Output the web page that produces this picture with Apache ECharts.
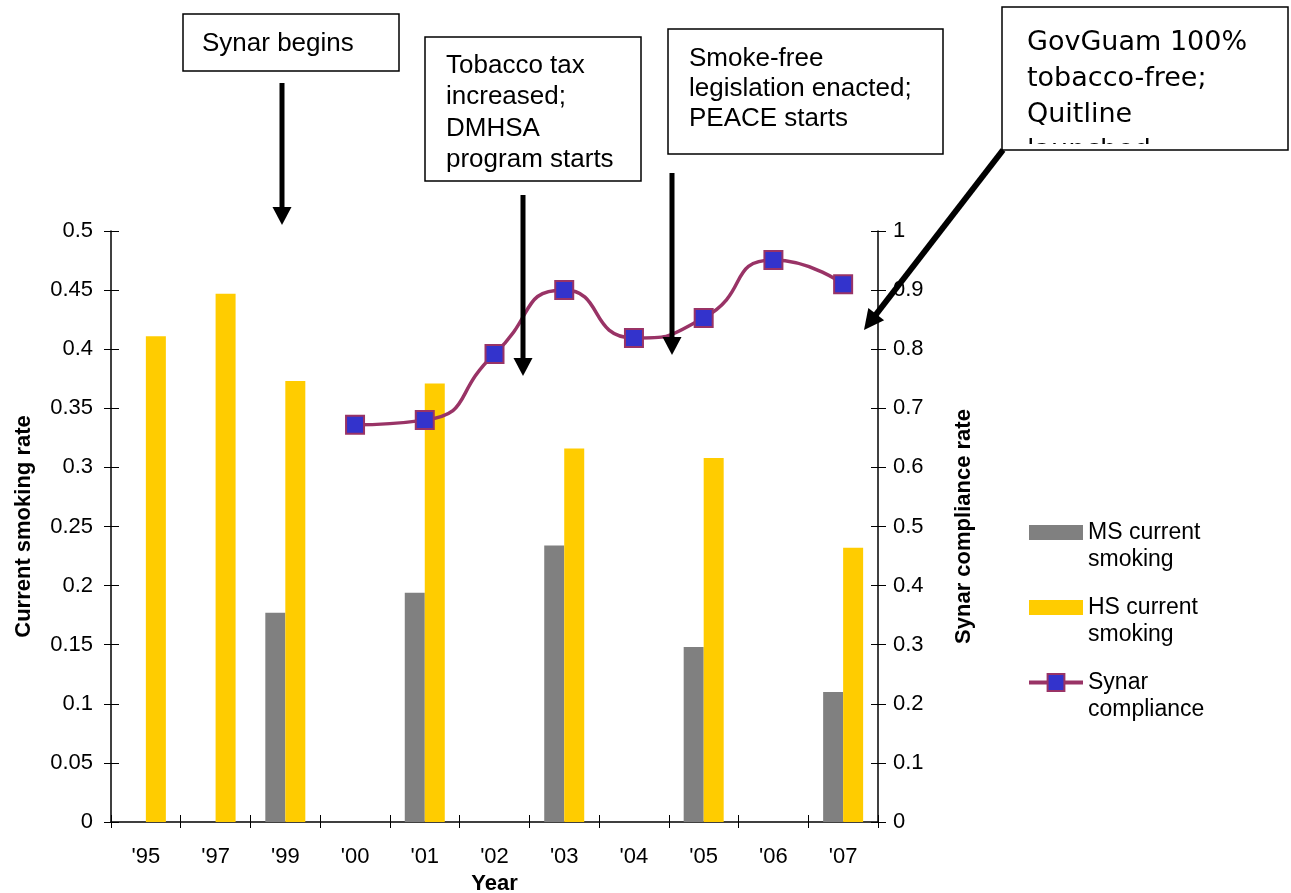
<!DOCTYPE html>
<html>
<head>
<meta charset="utf-8">
<script src="https://cdn.jsdelivr.net/npm/echarts@6/dist/echarts.min.js"></script>
<style>
  html, body { margin: 0; padding: 0; background: #ffffff; }
  #chart { width: 1291px; height: 893px; }
</style>
</head>
<body>
<div id="chart"></div>
<script>
// Survey years on the category axis
const years = ["'95", "'97", "'99", "'00", "'01", "'02", "'03", "'04", "'05", "'06", "'07"];

// Current smoking rates (left axis)
const msSmoking = [null, null, 0.177, null, 0.194, null, 0.234, null, 0.148, null, 0.110];
const hsSmoking = [0.411, 0.447, 0.373, null, 0.371, null, 0.316, null, 0.308, null, 0.232];

// Synar compliance rate (right axis)
const synarCompliance = [null, null, null, 0.672, 0.680, 0.792, 0.900, 0.819, 0.853, 0.951, 0.910];

// Series names and their two-line legend labels
const seriesNames = ['MS current smoking', 'HS current smoking', 'Synar compliance'];
const legendLabels = {
  'MS current smoking': 'MS current\nsmoking',
  'HS current smoking': 'HS current\nsmoking',
  'Synar compliance': 'Synar\ncompliance'
};

// Axis ranges
const leftAxisMax = 0.5, leftAxisStep = 0.05;
const rightAxisMax = 1, rightAxisStep = 0.1;

// Policy milestone notes
const notes = [
  { lines: ['Synar begins'] },
  { lines: ['Tobacco tax', 'increased;', 'DMHSA', 'program starts'] },
  { lines: ['Smoke-free', 'legislation enacted;', 'PEACE starts'] },
  { lines: ['GovGuam 100%', 'tobacco-free;', 'Quitline', 'launched'] }
];

const FONT = '"Liberation Sans", Arial, sans-serif';
const chart = echarts.init(document.getElementById('chart'), null, { renderer: 'canvas' });

// ---- note boxes and arrows ----
function noteBox(x, y, w, h) {
  return { type: 'rect', shape: { x: x, y: y, width: w, height: h },
           style: { fill: 'none', stroke: '#000', lineWidth: 1.5 }, z: 20 };
}
function whiteBox(x, y, w, h) {
  return { type: 'rect', shape: { x: x, y: y, width: w, height: h },
           style: { fill: '#fff' }, z: 18 };
}
function noteText(lines, x, y, size, lh, family) {
  return { type: 'text', x: x, y: y, z: 19,
           style: { text: lines.join('\n'), font: size + 'px ' + family, lineHeight: lh,
                    fill: '#000', verticalAlign: 'top', align: 'left' } };
}
function arrow(x1, y1, x2, y2, width, headLen, headHalf) {
  const dx = x2 - x1, dy = y2 - y1, len = Math.sqrt(dx * dx + dy * dy);
  const ux = dx / len, uy = dy / len;
  const bx = x2 - ux * headLen, by = y2 - uy * headLen;
  const px = -uy, py = ux;
  return [
    { type: 'line', z: 21, shape: { x1: x1, y1: y1, x2: bx + ux * 2, y2: by + uy * 2 },
      style: { stroke: '#000', lineWidth: width } },
    { type: 'polygon', z: 21,
      shape: { points: [[x2, y2], [bx + px * headHalf, by + py * headHalf], [bx - px * headHalf, by - py * headHalf]] },
      style: { fill: '#000' } }
  ];
}

const graphics = [
  whiteBox(183, 14, 216, 57), noteBox(183, 14, 216, 57),
  noteText(notes[0].lines, 202, 28, 26, 31, FONT),

  whiteBox(425, 37, 216, 144), noteBox(425, 37, 216, 144),
  noteText(notes[1].lines, 446, 50, 26, 31.5, FONT),

  whiteBox(668, 29, 275, 125), noteBox(668, 29, 275, 125),
  noteText(notes[2].lines, 689, 44, 26, 30, FONT),

  whiteBox(1002, 7, 286, 143),
  noteText(notes[3].lines, 1027, 25, 27, 36, '"DejaVu Sans", sans-serif'),
  // the box is too short for the last line, which gets cut off
  { type: 'rect', z: 19.5, shape: { x: 1003, y: 144, width: 288, height: 30 }, style: { fill: '#fff' } },
  noteBox(1002, 7, 286, 143)
].concat(
  arrow(282, 83, 282, 225, 5, 18, 9.5),
  arrow(523, 195, 523, 376, 5, 18, 9.5),
  arrow(672, 173, 672, 355, 5, 18, 9.5),
  arrow(1003, 150, 864, 330, 6, 20, 10)
);

const tickStyle = { color: '#000', width: 1 };
const labelStyle = { fontFamily: FONT, fontSize: 22, color: '#000' };
const nameStyle = { fontFamily: FONT, fontSize: 22, fontWeight: 'bold', color: '#000' };

// bar key: a 54x15 swatch centred in a 54x21 key box
const barKeyIcon = 'path://M0,0L0,0M54,21L54,21M0,3L54,3L54,18L0,18Z';

const option = {
  backgroundColor: '#ffffff',
  animation: false,
  grid: { left: 111, right: 413, top: 231, bottom: 71, outerBoundsMode: 'none', containLabel: false },
  legend: {
    orient: 'vertical',
    left: 1027,
    top: 492,
    padding: 0,
    itemWidth: 54,
    itemHeight: 21,
    itemGap: -6,
    data: [
      { name: seriesNames[0], icon: barKeyIcon },
      { name: seriesNames[1], icon: barKeyIcon },
      { name: seriesNames[2] }
    ],
    lineStyle: { width: 4 },
    // leading blank line keeps the key level with the first text line
    formatter: function (name) { return '\n' + legendLabels[name]; },
    textStyle: { fontFamily: FONT, fontSize: 23, lineHeight: 27, color: '#000' }
  },
  xAxis: [
    {
      type: 'category', data: years, position: 'bottom',
      name: 'Year', nameLocation: 'middle', nameGap: 46, nameTextStyle: nameStyle,
      axisLine: { lineStyle: { color: '#000', width: 1.5 } },
      axisTick: { show: true, length: 6, lineStyle: tickStyle },
      axisLabel: Object.assign({ margin: 24 }, labelStyle),
      splitLine: { show: false }
    },
    {
      type: 'category', data: years, position: 'bottom',
      axisLine: { show: false },
      axisTick: { show: true, inside: true, length: 7, lineStyle: tickStyle },
      axisLabel: { show: false },
      splitLine: { show: false }
    }
  ],
  yAxis: [
    {
      type: 'value', position: 'left', min: 0, max: leftAxisMax, interval: leftAxisStep,
      name: 'Current smoking rate', nameLocation: 'middle', nameGap: 76, nameRotate: 90,
      nameTextStyle: nameStyle,
      axisLine: { show: true, lineStyle: { color: '#000', width: 1.5 } },
      axisTick: { show: true, length: 7, lineStyle: tickStyle },
      axisLabel: Object.assign({ margin: 18 }, labelStyle),
      splitLine: { show: false }
    },
    {
      type: 'value', position: 'left', min: 0, max: leftAxisMax, interval: leftAxisStep,
      axisLine: { show: false },
      axisTick: { show: true, inside: true, length: 8, lineStyle: tickStyle },
      axisLabel: { show: false },
      splitLine: { show: false }
    },
    {
      type: 'value', position: 'right', min: 0, max: rightAxisMax, interval: rightAxisStep,
      name: 'Synar compliance rate', nameLocation: 'middle', nameGap: 75, nameRotate: 90,
      nameTextStyle: nameStyle,
      axisLine: { show: true, lineStyle: { color: '#000', width: 1.5 } },
      axisTick: { show: true, length: 8, lineStyle: tickStyle },
      axisLabel: Object.assign({ margin: 15 }, labelStyle),
      splitLine: { show: false }
    },
    {
      type: 'value', position: 'right', min: 0, max: rightAxisMax, interval: rightAxisStep,
      axisLine: { show: false },
      axisTick: { show: true, inside: true, length: 7, lineStyle: tickStyle },
      axisLabel: { show: false },
      splitLine: { show: false }
    }
  ],
  series: [
    {
      name: seriesNames[0], type: 'bar', xAxisIndex: 0, yAxisIndex: 0,
      data: msSmoking, barWidth: 20, barGap: '0%',
      itemStyle: { color: '#808080' }
    },
    {
      name: seriesNames[1], type: 'bar', xAxisIndex: 0, yAxisIndex: 0,
      data: hsSmoking, barWidth: 20, barGap: '0%',
      itemStyle: { color: '#FFCC00' }
    },
    {
      name: seriesNames[2], type: 'line', xAxisIndex: 0, yAxisIndex: 2,
      data: synarCompliance, smooth: 0.6,
      symbol: 'rect', symbolSize: 18,
      lineStyle: { color: '#993366', width: 3.5 },
      itemStyle: { color: '#3333CC', borderColor: '#993366', borderWidth: 2 },
      z: 5
    }
  ],
  graphic: graphics
};

chart.setOption(option);
</script>
</body>
</html>
